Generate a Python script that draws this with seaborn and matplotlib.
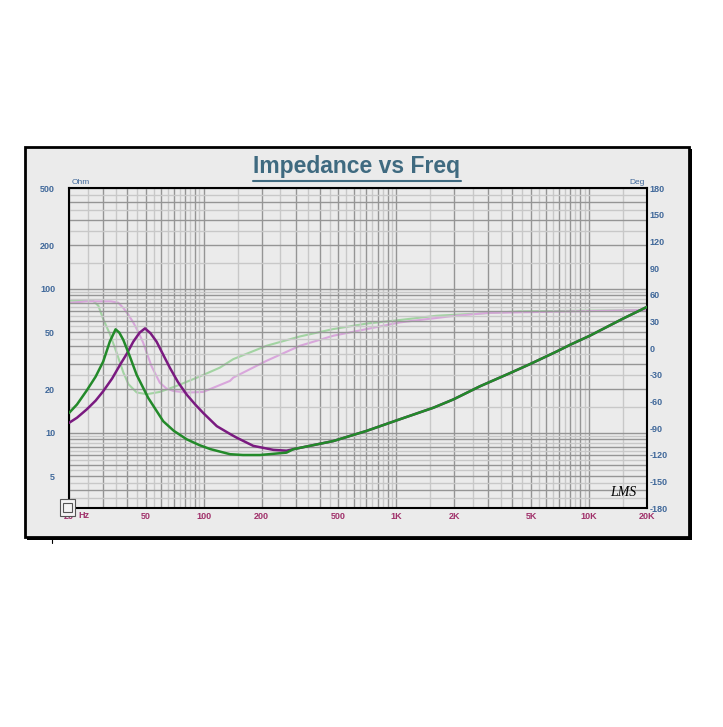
import matplotlib
matplotlib.use('Agg')
import matplotlib.pyplot as plt
from matplotlib.ticker import LogLocator, FixedLocator, FuncFormatter, NullFormatter
from matplotlib.patches import Rectangle
from matplotlib.lines import Line2D
import seaborn as sns

# ------------------------------------------------------------
# Data (freq in Hz, impedance in Ohm, phase in deg)
# ------------------------------------------------------------
FREQ_GREEN_LO = [20, 22, 24.7, 27.5, 30.1, 32.6, 34.9, 36.5, 38.3, 41.4, 44.9, 51.6, 61.7, 70, 81.6, 95, 108, 137, 160, 196, 269]
Z_GREEN_LO = [13.7, 15.7, 19.6, 24.5, 31.2, 43.0, 52.2, 49.5, 44.0, 33.8, 25.2, 17.4, 12.0, 10.3, 9.0, 8.2, 7.7, 7.09, 7.0, 7.0, 7.27]

FREQ_PURPLE_LO = [20, 22, 24.7, 27.5, 30.1, 33.5, 36.8, 40, 43.1, 46.5, 49.6, 53, 57, 61.5, 66.9, 73.5, 81.6, 90, 99.5, 117, 137, 148, 181, 230, 269]
Z_PURPLE_LO = [11.7, 12.7, 14.5, 16.7, 19.4, 23.8, 29.6, 35.5, 42.8, 49.5, 53.0, 49.0, 42.8, 35.0, 28.1, 22.5, 18.4, 15.8, 13.7, 11.1, 9.8, 9.25, 8.1, 7.6, 7.5]

# both drivers share the same curve above ~300 Hz
FREQ_HI = [292, 471, 702, 1044, 1556, 1973, 2717, 3883, 4930, 6790, 7960, 10120, 15070, 20000]
Z_HI = [7.68, 8.75, 10.3, 12.4, 14.9, 17.0, 21.0, 25.9, 29.9, 36.6, 40.7, 47.2, 62.1, 74.7]

FREQ_PH_GREEN = [20, 26.7, 28.4, 30.1, 32.6, 35.3, 38.3, 40.7, 44.9, 50.7, 59.2, 72.3, 95.5,
                 121.6, 142.5, 212, 316, 471, 702, 1044, 1618, 4386, 20000]
PH_GREEN = [53.3, 53.0, 47.6, 32.6, 15.7, -5.0, -27.6, -40.7, -50.0, -52.0, -49.4, -42.7, -32.0,
            -22.0, -12.5, 2.5, 13.0, 21.3, 27.5, 31.5, 36.3, 41.2, 42.7]

FREQ_PH_PURPLE = [20, 24.7, 33, 36, 38.3, 40.5, 43.1, 45.8, 48.5, 53.5, 59.2, 64, 69.5, 81.6, 99.5, 137,
                  142.5, 212, 316, 471, 702, 1044, 1897, 3000, 20000]
PH_PURPLE = [50.7, 52.5, 52.5, 51.0, 45.0, 38.0, 28.8, 18.0, 6.2, -20.0, -39.0, -45.5, -48.3, -50.2, -49.4, -37.0,
             -33.3, -14.4, 2.5, 13.8, 21.3, 28.8, 35.6, 39.5, 42.7]

X_LABELS = {20: '20', 50: '50', 100: '100', 200: '200', 500: '500', 1000: '1K',
            2000: '2K', 5000: '5K', 10000: '10K', 20000: '20K'}
Y_LABELS = [5, 10, 20, 50, 100, 200, 500]
DEG_TICKS = list(range(-180, 181, 30))

# ------------------------------------------------------------
# Style
# ------------------------------------------------------------
sns.set_style('white')
plt.rcParams['font.family'] = ['Liberation Sans', 'DejaVu Sans']
plt.rcParams['axes.unicode_minus'] = False

W, H = 723, 727
def fx(x):
    return x / W
def fy(y):
    return 1 - y / H

fig = plt.figure(figsize=(W / 100, H / 100), dpi=100)

# grey panel with a heavy black frame
fig.patches.append(Rectangle((fx(27), fy(540)), fx(692) - fx(27), fy(149) - fy(540),
                             transform=fig.transFigure, facecolor='black', edgecolor='none', zorder=-3))
fig.patches.append(Rectangle((fx(25), fy(537)), fx(689) - fx(25), fy(147) - fy(537),
                             transform=fig.transFigure, facecolor='#ebebeb', edgecolor='black',
                             linewidth=2.0, zorder=-2))

ax = fig.add_axes([fx(69), fy(508), 578 / W, 320 / H])

sns.lineplot(x=FREQ_GREEN_LO + FREQ_HI, y=Z_GREEN_LO + Z_HI, ax=ax, color='#238a2a',
             linewidth=1.8, estimator=None, zorder=4)
sns.lineplot(x=FREQ_PURPLE_LO + FREQ_HI, y=Z_PURPLE_LO + Z_HI, ax=ax, color='#7a1a80',
             linewidth=1.8, estimator=None, zorder=3)
ax.set_xscale('log')
ax.set_yscale('log')

# phase on the right axis
ax2 = ax.twinx()
sns.lineplot(x=FREQ_PH_GREEN, y=PH_GREEN, ax=ax2, color='#a2d4a2', linewidth=1.5, estimator=None)
sns.lineplot(x=FREQ_PH_PURPLE, y=PH_PURPLE, ax=ax2, color='#d9a6dc', linewidth=1.5, estimator=None)
ax2.set_xscale('log')
ax2.set_ylim(-180, 180)
ax2.yaxis.set_major_locator(FixedLocator(DEG_TICKS))
ax2.set_ylabel('')
ax2.tick_params(axis='y', length=0, pad=2, labelsize=6.5, labelcolor='#40689a')
ax2.grid(False)
for sp in ax2.spines.values():
    sp.set_visible(False)
ax.set_zorder(ax2.get_zorder() + 1)
ax.patch.set_visible(False)
ax2.patch.set_facecolor('white')

ax.set_xlim(20, 20000)
ax.set_ylim(3, 500)

# dense log grid: dark lines at 1..9, light ones at the half steps
half = [1.5, 2.5, 3.5, 4.5, 5.5, 6.5, 7.5, 8.5, 9.5]
for axis in (ax.xaxis, ax.yaxis):
    axis.set_major_locator(LogLocator(base=10, subs=range(1, 10), numticks=50))
    axis.set_minor_locator(LogLocator(base=10, subs=half, numticks=50))
    axis.set_minor_formatter(NullFormatter())

def xfmt(v, pos):
    for k, s in X_LABELS.items():
        if abs(v - k) / k < 1e-6:
            return s
    return ''

def yfmt(v, pos):
    for k in Y_LABELS:
        if abs(v - k) / k < 1e-6:
            return str(k)
    return ''

ax.xaxis.set_major_formatter(FuncFormatter(xfmt))
ax.yaxis.set_major_formatter(FuncFormatter(yfmt))
ax.grid(which='minor', color='#c8c8c8', linewidth=1.0)
ax.grid(which='major', color='#959595', linewidth=1.0)
ax.set_axisbelow(True)
ax.set_xlabel('')
ax.set_ylabel('')
ax.tick_params(axis='x', which='both', length=0, pad=3, labelsize=6.5, labelcolor='#a0306a')
ax.tick_params(axis='y', which='both', length=0, pad=10, labelsize=6.5, labelcolor='#40689a')
for sp in ax.spines.values():
    sp.set_color('black')
    sp.set_linewidth(1.5)

# ------------------------------------------------------------
# Texts
# ------------------------------------------------------------
title = fig.text(fx(357), fy(167), 'Impedance vs Freq', ha='center', va='center',
                 fontsize=16.5, fontweight='bold', color='#3f6a80')
fig.text(fx(72), fy(182), 'Ohm', fontsize=6, color='#40689a', va='center')
fig.text(fx(645), fy(182), 'Deg', fontsize=6, color='#40689a', va='center', ha='right')
fig.text(fx(78), fy(515), 'Hz', fontsize=6.5, fontweight='bold', color='#a0306a', va='center')
fig.text(fx(623), fy(493), 'LMS', fontsize=10, style='italic', family='Liberation Serif',
         color='black', ha='center', va='center', zorder=10)

fig.canvas.draw()
for lab in ax.get_xticklabels() + ax.get_yticklabels() + ax2.get_yticklabels():
    lab.set_fontweight('bold')

# underline the title
bb = title.get_window_extent().transformed(fig.transFigure.inverted())
fig.add_artist(Line2D([bb.x0, bb.x1], [bb.y0 - 0.003, bb.y0 - 0.003], color='#3f6a80',
                      linewidth=1.5, transform=fig.transFigure))

# little cursor icon in the corner and the stray mark under the frame
fig.add_artist(Rectangle((fx(60), fy(516)), 15 / W, 17 / H, transform=fig.transFigure,
                         facecolor='#f4f4f4', edgecolor='#555555', linewidth=0.8, zorder=10))
fig.add_artist(Rectangle((fx(63), fy(512)), 9 / W, 9 / H, transform=fig.transFigure,
                         facecolor='none', edgecolor='#555555', linewidth=0.8, zorder=11))
fig.add_artist(Line2D([fx(52), fx(52)], [fy(537), fy(543)], color='black', linewidth=0.8,
                      transform=fig.transFigure))

fig.savefig('out.png', dpi=100, facecolor='white')
